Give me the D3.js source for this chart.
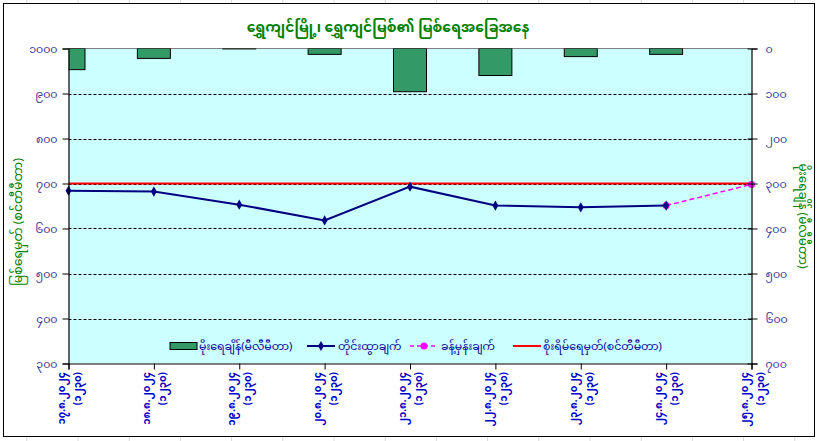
<!DOCTYPE html>
<html><head><meta charset="utf-8">
<script src="https://cdn.jsdelivr.net/npm/d3@7"></script>
<style>
html,body{margin:0;padding:0;background:#fff;}
svg{display:block;}
text{font-family:"Noto Sans Myanmar","Myanmar Text","Padauk","Noto Sans","DejaVu Sans",sans-serif;}
</style></head>
<body>
<svg id="chart" width="819" height="441"></svg>
<script>
// ---- data ----
const dates = ["၁၇.၈.၂၀၂၄","၁၈.၈.၂၀၂၄","၁၉.၈.၂၀၂၄","၂၀.၈.၂၀၂၄","၂၁.၈.၂၀၂၄","၂၂.၈.၂၀၂၄","၂၃.၈.၂၀၂၄","၂၄.၈.၂၀၂၄","၂၅.၈.၂၀၂၄"];
const timeLabel = "(၁၂၃၀)";
const rainfall = [47, 22, 1, 13, 96, 60, 18, 13, 0];          // mm, right axis (inverted)
const observed = [684, 682, 653, 618, 693, 651, 647, 651];    // cm, left axis
const forecastIdx = [7, 8];
const forecast = [651, 698];                                   // cm
const dangerLevel = 700;                                       // cm
const leftTicks = [300, 400, 500, 600, 700, 800, 900, 1000];
const rightTicks = [0, 100, 200, 300, 400, 500, 600, 700];
const titleText = "ရွှေကျင်မြို့၊ ရွှေကျင်မြစ်၏ မြစ်ရေအခြေအနေ";
const leftTitle = "မြစ်ရေမှတ် (စင်တီမီတာ)";
const rightTitle = "မိုးရေချိန် (မီလီမီတာ)";
const legendLabels = ["မိုးရေချိန်(မီလီမီတာ)", "တိုင်းထွာချက်", "ခန့်မှန်းချက်", "စိုးရိမ်ရေမှတ်(စင်တီမီတာ)"];

// ---- helpers ----
const mmDigits = "၀၁၂၃၄၅၆၇၈၉";
const toMM = n => String(n).replace(/[0-9]/g, d => mmDigits[+d]);

const svg = d3.select("#chart");
const W = 819, H = 441;
const L = 68.5, R = 751.5, T = 48.5, B = 363.5;

// background spreadsheet grid outside frame
const bg = svg.append("g");
d3.range(0, 16).forEach(k => {
  const xx = 26.8 + 51.2 * k;
  bg.append("line").attr("x1", xx).attr("x2", xx).attr("y1", 0).attr("y2", H).attr("stroke", "#d8d8d8");
});
svg.append("rect").attr("x", 3.5).attr("y", 3.5).attr("width", 811).attr("height", 433)
  .attr("fill", "#fff").attr("stroke", "#000").attr("stroke-width", 1);

const x = d3.scalePoint().domain(d3.range(dates.length)).range([L, R]);
const yL = d3.scaleLinear().domain([300, 1000]).range([B, T]);
const yR = d3.scaleLinear().domain([0, 700]).range([T, B]);

// plot area
svg.append("rect").attr("x", L).attr("y", T).attr("width", R - L).attr("height", B - T).attr("fill", "#CCFFFF");
svg.append("defs").append("clipPath").attr("id", "clip")
  .append("rect").attr("x", L).attr("y", T).attr("width", R - L).attr("height", B - T);

// gridlines
svg.append("g").selectAll("line").data(leftTicks.filter(v => v > 300 && v < 1000)).join("line")
  .attr("x1", L).attr("x2", R).attr("y1", d => Math.round(yL(d)) + 0.5).attr("y2", d => Math.round(yL(d)) + 0.5)
  .attr("stroke", "#000").attr("stroke-dasharray", "3,2").attr("stroke-width", 1);
svg.append("line").attr("x1", L).attr("x2", R).attr("y1", T).attr("y2", T).attr("stroke", "#808080");

// bars
const bw = 33;
svg.append("g").attr("clip-path", "url(#clip)").selectAll("rect").data(rainfall).join("rect")
  .attr("x", (d, i) => x(i) - bw / 2).attr("y", yR(0))
  .attr("width", bw).attr("height", d => Math.max(0, yR(d) - yR(0)))
  .attr("fill", "#339966").attr("stroke", "#000").attr("stroke-width", 1)
  .attr("display", d => d > 0 ? null : "none");

// danger line
svg.append("line").attr("x1", L).attr("x2", R).attr("y1", yL(dangerLevel)).attr("y2", yL(dangerLevel))
  .attr("stroke", "#FF0000").attr("stroke-width", 2);

// forecast
const lineGen = d3.line().x(d => x(d[0])).y(d => yL(d[1]));
const fData = forecastIdx.map((i, k) => [i, forecast[k]]);
svg.append("path").datum(fData).attr("d", lineGen).attr("fill", "none")
  .attr("stroke", "#FF00FF").attr("stroke-width", 1.5).attr("stroke-dasharray", "5,3");
svg.append("g").selectAll("circle").data(fData).join("circle")
  .attr("cx", d => x(d[0])).attr("cy", d => yL(d[1])).attr("r", 3.5).attr("fill", "#FF00FF");

// observed
const oData = observed.map((v, i) => [i, v]);
svg.append("path").datum(oData).attr("d", lineGen).attr("fill", "none")
  .attr("stroke", "#000080").attr("stroke-width", 2);
const diamond = d3.symbol().type(d3.symbolDiamond).size(30);
svg.append("g").selectAll("path").data(oData).join("path")
  .attr("d", diamond).attr("transform", d => `translate(${x(d[0])},${yL(d[1])})`).attr("fill", "#000080");

// axes
const axL = svg.append("g").attr("transform", `translate(${L},0)`)
  .call(d3.axisLeft(yL).tickValues(leftTicks).tickSize(6).tickPadding(5).tickFormat(toMM));
const axR = svg.append("g").attr("transform", `translate(${R},0)`)
  .call(d3.axisRight(yR).tickValues(rightTicks).tickSize(6).tickPadding(8).tickFormat(toMM));
axR.selectAll(".tick line").attr("x1", -4);
const axB = svg.append("g").attr("transform", `translate(0,${B})`)
  .call(d3.axisBottom(x).tickSize(6).tickFormat(""));
[axL, axR, axB].forEach(a => {
  a.select(".domain").attr("stroke", "#000").attr("stroke-width", 1.2);
  a.selectAll(".tick line").attr("stroke", "#000");
  a.selectAll(".tick text").attr("fill", "#333399").attr("font-size", 11);
});

// x labels (rotated, two lines)
const xl = svg.append("g").selectAll("g").data(dates).join("g")
  .attr("transform", (d, i) => `translate(${x(i)},372) rotate(-90)`);
xl.append("text").attr("text-anchor", "end").attr("x", 0).attr("y", -4)
  .attr("fill", "#0000CC").attr("font-size", 10).attr("font-weight", "bold").text(d => d);
xl.append("text").attr("text-anchor", "end").attr("x", 0).attr("y", 12)
  .attr("fill", "#0000CC").attr("font-size", 10).attr("font-weight", "bold").text(timeLabel);

// titles
svg.append("text").attr("x", 388).attr("y", 32).attr("text-anchor", "middle")
  .attr("fill", "#008000").attr("font-size", 14).attr("font-weight", "bold").text(titleText);
svg.append("text").attr("transform", "translate(22,222) rotate(-90)").attr("text-anchor", "middle")
  .attr("fill", "#008000").attr("font-size", 12.5).text(leftTitle);
svg.append("text").attr("transform", "translate(799,216) rotate(90)").attr("text-anchor", "middle")
  .attr("fill", "#008000").attr("font-size", 12).text(rightTitle);

// legend
const lg = svg.append("g").attr("font-size", 11);
const items = [
  {sx: 170, tx: 199, type: "bar"},
  {sx: 307, tx: 338, type: "obs"},
  {sx: 410, tx: 441, type: "fc"},
  {sx: 513, tx: 543, type: "danger"}
];
const ly = 346;
items.forEach((it, k) => {
  if (it.type === "bar") lg.append("rect").attr("x", it.sx).attr("y", ly - 3.5).attr("width", 27).attr("height", 7)
    .attr("fill", "#339966").attr("stroke", "#000");
  if (it.type === "obs") {
    lg.append("line").attr("x1", it.sx).attr("x2", it.sx + 28).attr("y1", ly).attr("y2", ly).attr("stroke", "#000080").attr("stroke-width", 2);
    lg.append("path").attr("d", diamond).attr("transform", `translate(${it.sx + 14},${ly})`).attr("fill", "#000080");
  }
  if (it.type === "fc") {
    lg.append("line").attr("x1", it.sx).attr("x2", it.sx + 28).attr("y1", ly).attr("y2", ly).attr("stroke", "#FF00FF").attr("stroke-width", 1.5).attr("stroke-dasharray", "4,3");
    lg.append("circle").attr("cx", it.sx + 14).attr("cy", ly).attr("r", 3.5).attr("fill", "#FF00FF");
  }
  if (it.type === "danger") lg.append("line").attr("x1", it.sx).attr("x2", it.sx + 28).attr("y1", ly).attr("y2", ly).attr("stroke", "#FF0000").attr("stroke-width", 2);
  lg.append("text").attr("x", it.tx).attr("y", ly + 4).attr("fill", "#000099").text(legendLabels[k]);
});
</script>
</body></html>
